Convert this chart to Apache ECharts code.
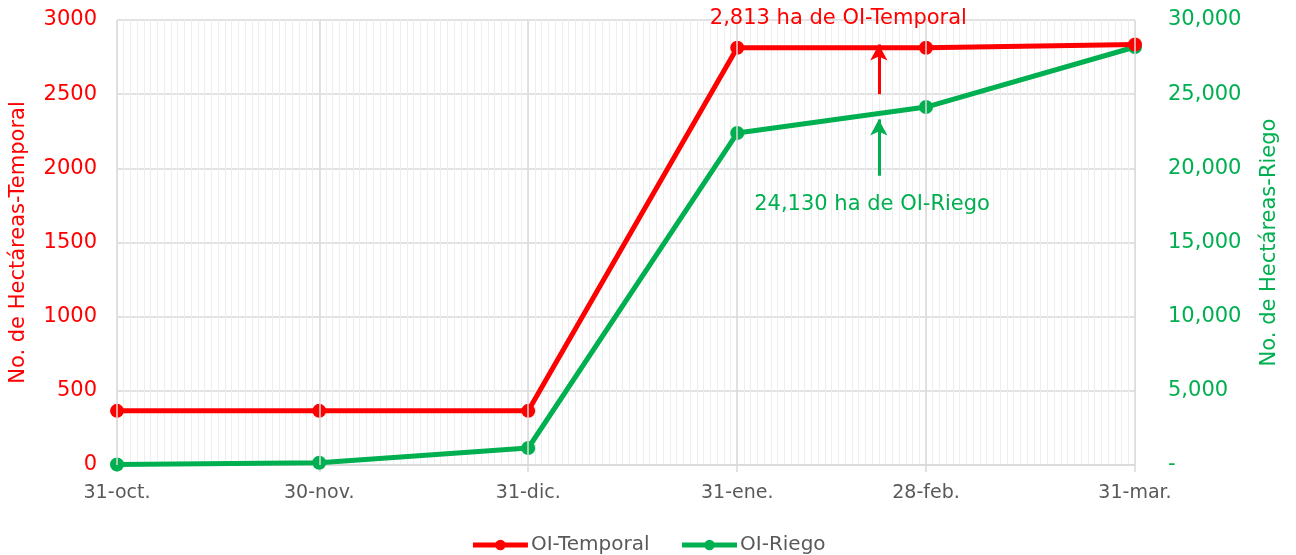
<!DOCTYPE html>
<html>
<head>
<meta charset="utf-8">
<script src="https://cdn.jsdelivr.net/npm/echarts@6/dist/echarts.min.js"></script>
<style>html,body{margin:0;padding:0;background:#fff}#c{width:1296px;height:555px}</style>
</head>
<body>
<div id="c"></div>
<script>
// ---- data ----
const dates = ['2020-10-31','2020-11-30','2020-12-31','2021-01-31','2021-02-28','2021-03-31'];
const xLabels = ['31-oct.','30-nov.','31-dic.','31-ene.','28-feb.','31-mar.'];
const temporal = [365, 365, 365, 2813, 2813, 2835];
const riego = [30, 155, 1146, 22380, 24130, 28180];
const leftTicks = [0, 500, 1000, 1500, 2000, 2500, 3000];
const rightTicks = [0, 5000, 10000, 15000, 20000, 25000, 30000];
const noteTemporal = '2,813 ha de OI-Temporal';
const noteRiego = '24,130 ha de OI-Riego';
const noteDate = '2021-02-21';
const noteDateTextT = '2021-02-15';
const noteDateTextR = '2021-02-20';

// ---- helpers ----
const day0 = Date.parse(dates[0] + 'T00:00:00Z');
const toDay = d => Math.round((Date.parse(d + 'T00:00:00Z') - day0) / 86400000);
const days = dates.map(toDay);
const maxDay = days[days.length - 1];
const labelOf = {};
days.forEach((d, i) => { labelOf[d] = xLabels[i]; });

const RED = '#FF0000', GREEN = '#00B050', GRID = '#D9D9D9', MINOR = '#EEEEEE', TXT = '#595959';
const FONT = 'DejaVu Sans';

const chart = echarts.init(document.getElementById('c'), null, {renderer: 'canvas'});
chart.setOption({
  animation: false,
  textStyle: {fontFamily: FONT},
  grid: {left: 117, right: 161, top: 20, bottom: 90, containLabel: false},
  legend: {
    data: ['OI-Temporal', 'OI-Riego'],
    top: 530, left: 'center',
    itemWidth: 55, itemHeight: 13, itemGap: 30,
    lineStyle: {width: 5},
    textStyle: {color: TXT, fontSize: 20, fontFamily: FONT, padding: [0,0,0,-2]}
  },
  xAxis: [{
    type: 'value', min: 0, max: maxDay, interval: 1,
    axisLine: {show: true, lineStyle: {color: GRID, width: 1.5}},
    axisTick: {show: false}, axisLabel: {show: false},
    splitLine: {show: true, lineStyle: {color: MINOR, width: 1}}
  }, {
    type: 'value', min: 0, max: maxDay, position: 'bottom',
    axisLine: {show: false},
    axisTick: {show: true, customValues: days, length: 7, lineStyle: {color: GRID, width: 1.5}},
    axisLabel: {show: true, customValues: days, margin: 19, color: TXT, fontSize: 19, fontFamily: FONT,
      formatter: v => labelOf[v] || ''},
    splitLine: {show: false}
  }],
  yAxis: [{
    type: 'value', position: 'left', min: leftTicks[0], max: leftTicks[leftTicks.length-1], interval: leftTicks[1]-leftTicks[0],
    name: 'No. de Hectáreas-Temporal', nameLocation: 'middle', nameRotate: 90, nameGap: 88,
    nameTextStyle: {color: RED, fontSize: 21, fontFamily: FONT},
    axisLine: {show: false}, axisTick: {show: false},
    axisLabel: {color: RED, fontSize: 21, margin: 20, fontFamily: FONT, formatter: v => String(v)},
    splitLine: {show: true, lineStyle: {color: GRID, width: 1.5}}
  }, {
    type: 'value', position: 'right', min: rightTicks[0], max: rightTicks[rightTicks.length-1], interval: rightTicks[1]-rightTicks[0],
    name: 'No. de Hectáreas-Riego', nameLocation: 'middle', nameRotate: 90, nameGap: 124,
    nameTextStyle: {color: GREEN, fontSize: 21, fontFamily: FONT},
    axisLine: {show: false}, axisTick: {show: false},
    axisLabel: {color: GREEN, fontSize: 21, margin: 33, fontFamily: FONT,
      formatter: v => v === 0 ? '-' : v.toLocaleString('en-US')},
    splitLine: {show: false}
  }],
  series: [{
    name: 'grid-major', type: 'line', data: [], z: 1, silent: true,
    xAxisIndex: 0, yAxisIndex: 0,
    markLine: {
      silent: true, symbol: ['none', 'none'], animation: false,
      label: {show: false},
      lineStyle: {color: GRID, width: 1.5, type: 'solid'},
      data: days.map(d => ({xAxis: d}))
    }
  }, {
    name: 'OI-Temporal', type: 'line', xAxisIndex: 0, yAxisIndex: 0, z: 3,
    data: days.map((d, i) => [d, temporal[i]]),
    symbol: 'circle', symbolSize: 14,
    lineStyle: {color: RED, width: 5}, itemStyle: {color: RED},
    markLine: {
      silent: true, symbol: ['none', 'arrow'], symbolSize: [13, 16], animation: false,
      label: {show: false},
      lineStyle: {color: RED, width: 3, type: 'solid'},
      data: [[{coord: [toDay(noteDate), 2500]}, {coord: [toDay(noteDate), 2835]}]]
    },
    markPoint: {
      silent: true, symbol: 'circle', symbolSize: 0, animation: false,
      label: {show: true, position: 'inside', offset: [0, -1], color: RED, fontSize: 21, fontFamily: FONT, formatter: noteTemporal},
      data: [{coord: [toDay(noteDateTextT), 3000]}]
    }
  }, {
    name: 'OI-Riego', type: 'line', xAxisIndex: 0, yAxisIndex: 1, z: 2,
    data: days.map((d, i) => [d, riego[i]]),
    symbol: 'circle', symbolSize: 14,
    lineStyle: {color: GREEN, width: 5}, itemStyle: {color: GREEN},
    markLine: {
      silent: true, symbol: ['none', 'arrow'], symbolSize: [13, 16], animation: false,
      label: {show: false},
      lineStyle: {color: GREEN, width: 3, type: 'solid'},
      data: [[{coord: [toDay(noteDate), 19500]}, {coord: [toDay(noteDate), 23300]}]]
    },
    markPoint: {
      silent: true, symbol: 'circle', symbolSize: 0, animation: false,
      label: {show: true, position: 'inside', color: GREEN, fontSize: 21, fontFamily: FONT, formatter: noteRiego},
      data: [{coord: [toDay(noteDateTextR), 17530]}]
    }
  }]
});
</script>
</body>
</html>
